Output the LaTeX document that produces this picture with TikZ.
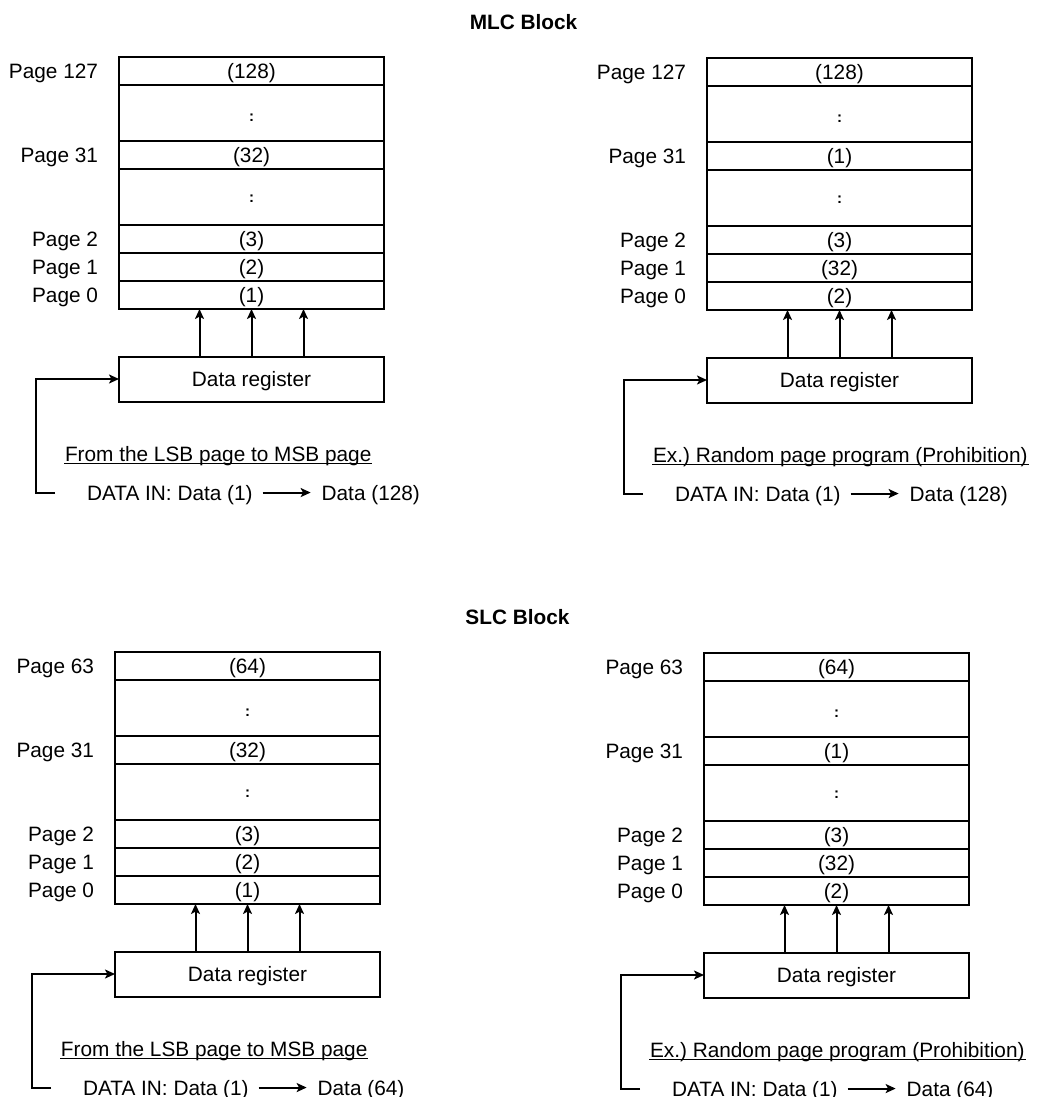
\documentclass[tikz,border=0pt]{standalone}
\usepackage{fontspec}
\setmainfont{Liberation Sans}
\frenchspacing
\usetikzlibrary{arrows.meta,positioning}

\tikzset{
  txt/.style={font=\fontsize{10.4}{12.5}\selectfont, inner sep=0pt, text height=7.45pt, text depth=0pt},
  pagerow/.style={txt, draw, line width=1pt, outer sep=0pt, minimum width=132.5pt, minimum height=14pt},
  gaprow/.style={pagerow, minimum height=28pt},
  regbox/.style={pagerow, minimum height=22.5pt},
  dotmark/.style={font=\fontsize{7.5}{9}\selectfont\bfseries, inner sep=0pt},
  title/.style={txt, font=\fontsize{10.4}{12.5}\selectfont\bfseries},
}

% one block: shift, name, top page, rows (top, page 31, page 1, page 0), caption, last data
\newcommand{\pageblock}[9]{%
  \begin{scope}[shift={(#1)}]
    % page rows, top to bottom
    \node[pagerow] (#2r0) at (132.5,14) {#4};
    \node[gaprow, below=0pt of #2r0] (#2r1) {};
    \node[pagerow, below=0pt of #2r1] (#2r2) {#5};
    \node[gaprow, below=0pt of #2r2] (#2r3) {};
    \node[pagerow, below=0pt of #2r3] (#2r4) {(3)};
    \node[pagerow, below=0pt of #2r4] (#2r5) {#6};
    \node[pagerow, below=0pt of #2r5] (#2r6) {#7};
    \node[dotmark] (#2c1) at ([yshift=-2.5pt]#2r1.center) {:};
    \node[dotmark] (#2c3) at ([yshift=-0.75pt]#2r3.center) {:};
    % page labels
    \node[txt, left=10pt of #2r0] (#2p0) {Page #3};
    \node[txt, left=10pt of #2r2] (#2p2) {Page 31};
    \node[txt, left=10pt of #2r4] (#2p4) {Page 2};
    \node[txt, left=10pt of #2r5] (#2p5) {Page 1};
    \node[txt, left=10pt of #2r6] (#2p6) {Page 0};
    % data register feeding the pages
    \node[regbox] (#2reg) at (132.5,322) {Data register};
    \foreach \dx in {-26,0,26}
      \draw[->] ([xshift=\dx pt]#2reg.north) -- ([xshift=\dx pt]#2r6.south);
    % data input
    \node[txt, anchor=base west] (#2cap) at (-55,404) {#8};
    \draw[line width=0.65pt] ([yshift=-1.1pt]#2cap.base west) -- ([yshift=-1.1pt]#2cap.base east);
    \node[txt, anchor=base west] (#2din) at (-33,443) {DATA IN: Data (1)};
    \node[txt, anchor=base west] (#2dout) at ([xshift=33.5pt]#2din.base east) {Data (#9)};
    \draw[->, shorten <=4.5pt, shorten >=5pt] (#2din) -- (#2dout);
    \coordinate (#2in) at (-64,436);
    \draw[->] (#2in) -- ++(-19,0) |- (#2reg.west);
  \end{scope}}

\begin{document}
\begin{tikzpicture}[>={Stealth[length=5pt,width=4.5pt,inset=1.2pt]}, x=0.5pt, y=-0.5pt, line width=1pt]
    \useasboundingbox (0,0) rectangle (1038,1097);

    % MLC block
    \node[title] (mlc) at (523.5,22) {MLC Block};
    \pageblock{119,57}{tl}{127}{(128)}{(32)}{(2)}{(1)}{From the LSB page to MSB page}{128}
    \pageblock{707,58}{tr}{127}{(128)}{(1)}{(32)}{(2)}{Ex.) Random page program (Prohibition)}{128}

    % SLC block
    \node[title] (slc) at (517.5,617.5) {SLC Block};
    \pageblock{115,652}{bl}{63}{(64)}{(32)}{(2)}{(1)}{From the LSB page to MSB page}{64}
    \pageblock{704,653}{br}{63}{(64)}{(1)}{(32)}{(2)}{Ex.) Random page program (Prohibition)}{64}
\end{tikzpicture}
\end{document}
